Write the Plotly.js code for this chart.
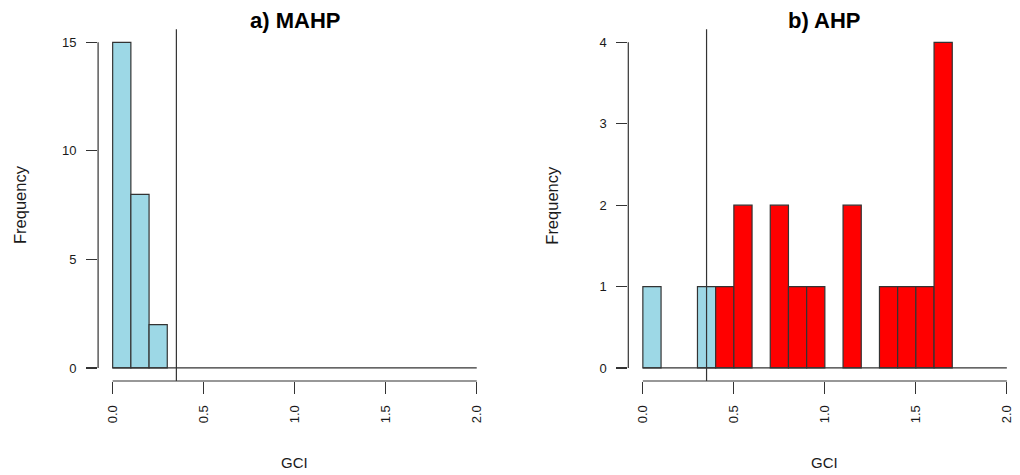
<!DOCTYPE html>
<html>
<head>
<meta charset="utf-8">
<script src="https://cdn.plot.ly/plotly-3.0.1.min.js"></script>
<style>html,body{margin:0;padding:0;background:#fff;}#chart{width:1020px;height:475px;}</style>
</head>
<body>
<div id="chart"></div>
<script>
// ---- data ----
const binWidth = 0.1;
const threshold = 0.35;
const mahpBinStarts = [0.0, 0.1, 0.2];
const mahpCounts = [15, 8, 2];
const ahpBinStarts = [0.0, 0.3, 0.4, 0.5, 0.7, 0.8, 0.9, 1.1, 1.3, 1.4, 1.5, 1.6];
const ahpCounts = [1, 1, 1, 2, 2, 1, 1, 2, 1, 1, 1, 4];
const xTickVals = [0, 0.5, 1.0, 1.5, 2.0];
const xTickText = ["0.0", "0.5", "1.0", "1.5", "2.0"];
const mahpYTicks = [0, 5, 10, 15];
const ahpYTicks = [0, 1, 2, 3, 4];
const titles = ["a) MAHP", "b) AHP"];
const xLabel = "GCI";
const yLabel = "Frequency";
const breaksEnd = 2.0;

// ---- styles ----
const BLUE = "#9dd8e6";
const RED = "#ff0000";
const INK = "#333333";
const TXT = "#1a1a1a";
const FONT = "Liberation Sans, Arial, sans-serif";

const centers = s => s.map(v => v + binWidth / 2);
const colorsFor = s => s.map(v => (v < threshold ? BLUE : RED));

const traces = [
  {
    type: "bar", x: centers(mahpBinStarts), y: mahpCounts, width: binWidth,
    marker: {color: colorsFor(mahpBinStarts), line: {color: INK, width: 1.2}},
    xaxis: "x", yaxis: "y", hoverinfo: "x+y"
  },
  {
    type: "bar", x: centers(ahpBinStarts), y: ahpCounts, width: binWidth,
    marker: {color: colorsFor(ahpBinStarts), line: {color: INK, width: 1.2}},
    xaxis: "x2", yaxis: "y2", hoverinfo: "x+y"
  }
];

const W = 1020, H = 475;
const yDom = [(H - 381) / H, (H - 29.3) / H];

function xAxis(domain, range, anchor) {
  return {
    domain: domain, range: range, anchor: anchor,
    showgrid: false, zeroline: false, showline: false,
    ticks: "outside", ticklen: 12, tickwidth: 1.2, tickcolor: INK,
    tickmode: "array", tickvals: xTickVals, ticktext: xTickText,
    tickangle: -90, ticklabelstandoff: 6,
    tickfont: {family: FONT, size: 13, color: TXT}, fixedrange: true
  };
}
function yAxis(range, ticks, anchor) {
  return {
    domain: yDom, range: range, anchor: anchor,
    showgrid: false, zeroline: false, showline: false,
    ticks: "outside", ticklen: 11, tickwidth: 1.2, tickcolor: INK,
    tickmode: "array", tickvals: ticks,
    ticklabelstandoff: 7,
    tickfont: {family: FONT, size: 13, color: TXT}, fixedrange: true
  };
}

const line = {color: INK, width: 1.2};
function panelShapes(xr, yr, ymax) {
  const xd = xr + " domain", yd = yr + " domain";
  return [
    // zero baseline of the histogram breaks
    {type: "line", xref: xr, yref: yr, x0: 0, x1: breaksEnd, y0: 0, y1: 0, line: line},
    // x axis line
    {type: "line", xref: xr, yref: yd, x0: xTickVals[0], x1: xTickVals[xTickVals.length - 1], y0: 0, y1: 0, line: line},
    // y axis line
    {type: "line", xref: xd, yref: yr, x0: 0, x1: 0, y0: 0, y1: ymax, line: line},
    // threshold
    {type: "line", xref: xr, yref: yd, x0: threshold, x1: threshold, y0: 0, y1: 1, line: line}
  ];
}

const ann = [];
[["x", "paper"], ["x2", "paper"]].forEach((r, i) => {
  ann.push({text: "<b>" + titles[i] + "</b>", xref: r[0], yref: "paper", x: 1.0, y: (H - 20) / H,
    showarrow: false, xanchor: "center", yanchor: "middle", font: {family: FONT, size: 22, color: "#000"}});
  ann.push({text: xLabel, xref: r[0], yref: "paper", x: 1.0, y: (H - 462) / H,
    showarrow: false, xanchor: "center", yanchor: "middle", font: {family: FONT, size: 15, color: TXT}});
});
ann.push({text: yLabel, xref: "paper", yref: "paper", x: 20 / W, y: (H - 205) / H, textangle: -90,
  showarrow: false, xanchor: "center", yanchor: "middle", font: {family: FONT, size: 16.5, color: TXT}});
ann.push({text: yLabel, xref: "paper", yref: "paper", x: 551.7 / W, y: (H - 205) / H, textangle: -90,
  showarrow: false, xanchor: "center", yanchor: "middle", font: {family: FONT, size: 16.5, color: TXT}});

const layout = {
  width: W, height: H,
  margin: {l: 0, r: 0, t: 0, b: 0},
  paper_bgcolor: "#fff", plot_bgcolor: "#fff",
  showlegend: false,
  xaxis: xAxis([98.1 / W, 491.3 / W], [-0.08, 2.08], "y"),
  yaxis: yAxis([-0.6, 15.6], mahpYTicks, "x"),
  xaxis2: xAxis([628.3 / W, 1], [-0.08, -0.08 + (W - 628.3) / 182], "y2"),
  yaxis2: yAxis([-0.16, 4.16], ahpYTicks, "x2"),
  shapes: panelShapes("x", "y", 15).concat(panelShapes("x2", "y2", 4)),
  annotations: ann
};

Plotly.newPlot("chart", traces, layout, {displayModeBar: false, staticPlot: true});
</script>
</body>
</html>
